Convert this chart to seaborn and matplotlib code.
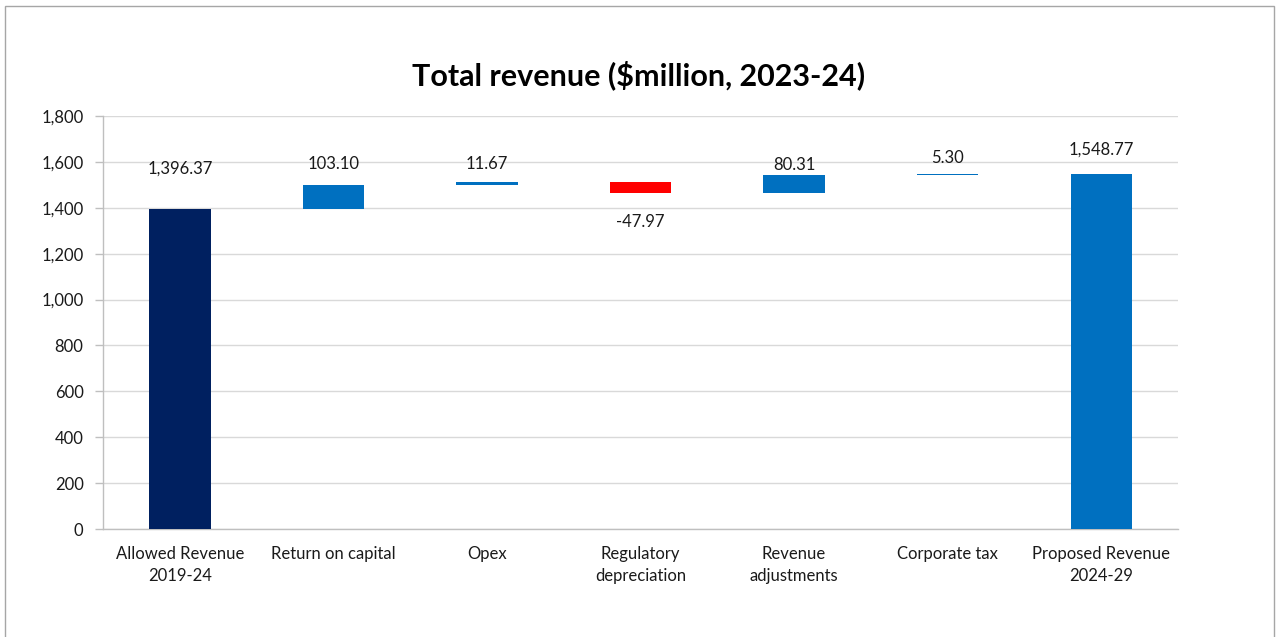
import matplotlib
matplotlib.use("Agg")
import matplotlib.pyplot as plt
import seaborn as sns
import numpy as np
import pandas as pd
from matplotlib.patches import Rectangle

categories = ["Allowed Revenue\n2019-24", "Return on capital", "Opex",
              "Regulatory\ndepreciation", "Revenue\nadjustments", "Corporate tax",
              "Proposed Revenue\n2024-29"]
changes = [1396.37, 103.10, 11.67, -47.97, 80.31, 5.30, 1548.77]
kinds = ["total", "delta", "delta", "delta", "delta", "delta", "total"]
y_ticks = [0, 200, 400, 600, 800, 1000, 1200, 1400, 1600, 1800]

# Waterfall extents: totals start at zero, deltas float on the running sum
starts, ends = [], []
running = 0.0
for val, kind in zip(changes, kinds):
    if kind == "total":
        s, e = 0.0, val
        running = val
    else:
        s, e = running, running + val
        running = e
    starts.append(min(s, e))
    ends.append(max(s, e))

df = pd.DataFrame({"category": categories,
                   "height": np.array(ends) - np.array(starts),
                   "bottom": starts,
                   "value": changes})

colors = ["#002060" if k == "total" and i == 0 else
          ("#FF0000" if v < 0 else "#0070C0")
          for i, (k, v) in enumerate(zip(kinds, changes))]

sns.set_theme(style="white")
plt.rcParams["font.family"] = ["Lato", "DejaVu Sans"]

fig = plt.figure(figsize=(12.77, 6.37), dpi=100)
ax = fig.add_axes([0.0807, 0.1695, 0.8418, 0.6484])

sns.barplot(data=df, x="category", y="height", hue="category",
            palette=colors, legend=False, width=0.40, ax=ax,
            saturation=1, zorder=3)

# Lift each floating bar onto its running total
for patch, b in zip(ax.patches, df["bottom"]):
    patch.set_y(b)
    patch.set_linewidth(0)

# Value labels, offset (points) above or below each bar
label_offsets = [29, 15, 13, -21, 7, 11, 17]
for i, (val, off) in enumerate(zip(df["value"], label_offsets)):
    anchor = df["bottom"][i] if val < 0 and kinds[i] == "delta" else df["bottom"][i] + df["height"][i]
    ax.annotate(f"{val:,.2f}", xy=(i, anchor), xytext=(0, off),
                textcoords="offset points", ha="center", va="center",
                fontsize=12, color="#1a1a1a")

ax.set_ylim(0, 1800)
ax.set_xlim(-0.5, len(categories) - 0.5)
ax.set_yticks(y_ticks)
ax.set_yticklabels([f"{t:,}" for t in y_ticks])
ax.yaxis.grid(True, color="#D9D9D9", linewidth=1, zorder=0)
ax.set_axisbelow(True)

# Category boundary ticks on the x axis
ax.set_xticks(np.arange(len(categories)))
ax.set_xticklabels(categories)
ax.set_xticks(np.arange(len(categories) + 1) - 0.5, minor=True)
ax.tick_params(axis="x", which="major", length=0, pad=12, labelsize=12, colors="#1a1a1a")
ax.tick_params(axis="x", which="minor", length=6, width=1, color="#BFBFBF", direction="out")
ax.tick_params(axis="y", length=6, width=1, color="#BFBFBF", direction="out",
               pad=8, labelsize=12, labelcolor="#1a1a1a", left=True)
for lab in ax.get_xticklabels():
    lab.set_linespacing(1.45)

ax.set_xlabel("")
ax.set_ylabel("")
for side in ["top", "right"]:
    ax.spines[side].set_visible(False)
for side in ["left", "bottom"]:
    ax.spines[side].set_color("#BFBFBF")
    ax.spines[side].set_linewidth(1)

fig.text(0.5, 0.882, "Total revenue ($million, 2023-24)", ha="center", va="center",
         fontsize=22, fontweight="bold", color="black")

# Chart area frame
fig.patches.append(Rectangle((5 / 1277, -0.02), 1269 / 1277, 1 - 6 / 637 + 0.02,
                             transform=fig.transFigure, fill=False,
                             edgecolor="#A6A6A6", linewidth=1))

fig.savefig("out.png", dpi=100)
